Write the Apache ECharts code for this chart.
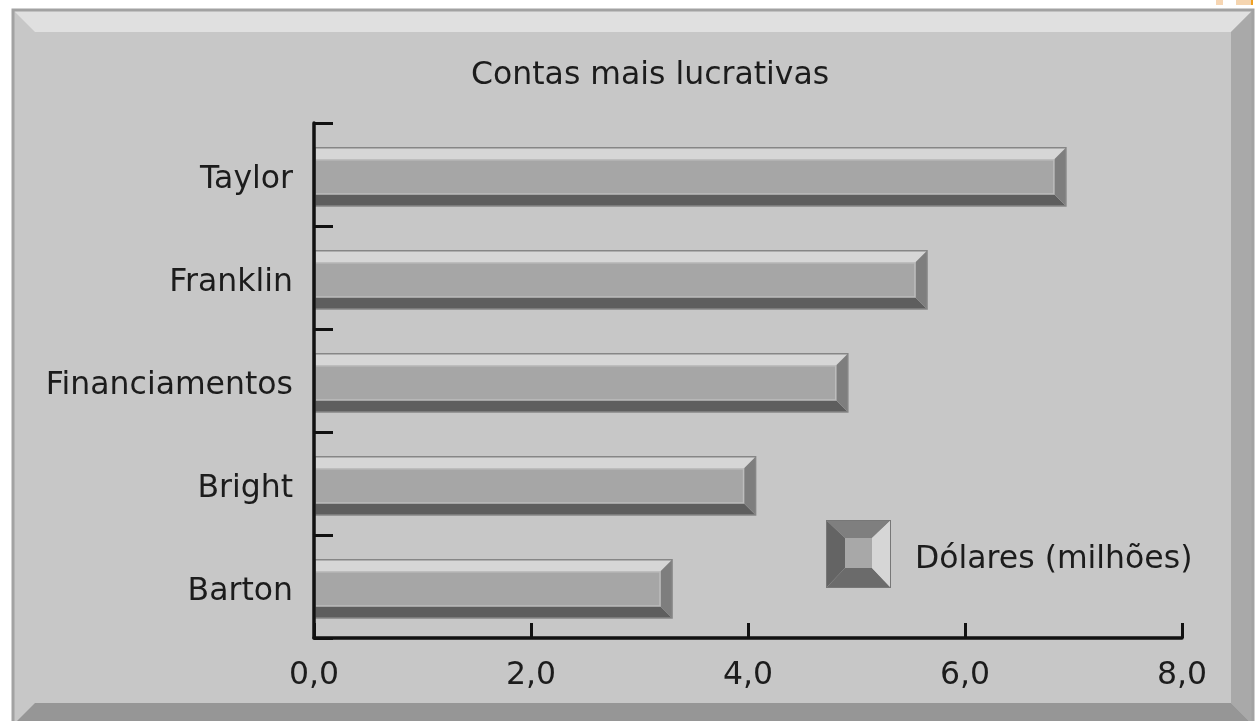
<!DOCTYPE html>
<html>
<head>
<meta charset="utf-8">
<title>Contas mais lucrativas</title>
<script src="https://cdn.jsdelivr.net/npm/echarts@6/dist/echarts.min.js"></script>
<style>
  html, body { margin: 0; padding: 0; background: #fff; }
  #main { width: 1256px; height: 721px; }
</style>
</head>
<body>
<div id="main"></div>
<script>
// dados do gráfico
const categories = ['Taylor', 'Franklin', 'Financiamentos', 'Bright', 'Barton'];
const values = [6.93, 5.65, 4.92, 4.07, 3.30];
const seriesName = 'Dólares (milhões)';
const xMin = 0;
const xMax = 8;
const xStep = 2;

const FONT = 'DejaVu Sans';
const TEXT_COLOR = '#1c1c1c';
const FONT_SIZE = 31.5;

// ícone da legenda em relevo (parte de baixo transparente p/ descer o texto)
const iconSvg =
  '<svg xmlns="http://www.w3.org/2000/svg" width="65" height="80" viewBox="0 0 65 80">' +
  '<polygon points="0,0 65,0 46,18 19,18" fill="#7f7f7f"/>' +
  '<polygon points="0,0 19,18 19,48 0,68" fill="#646464"/>' +
  '<polygon points="0,68 65,68 46,48 19,48" fill="#6b6b6b"/>' +
  '<polygon points="65,0 65,68 46,48 46,18" fill="#d6d6d6"/>' +
  '<rect x="19" y="18" width="27" height="30" fill="#a8a8a8"/>' +
  '<rect x="0.5" y="0.5" width="64" height="67" fill="none" stroke="#777" stroke-width="1"/>' +
  '</svg>';
const iconUri = 'image://data:image/svg+xml;charset=utf-8,' + encodeURIComponent(iconSvg);

// barra com efeito de bisel
const renderBar = function (params, api) {
  const idx = api.value(0);
  const val = api.value(1);
  const p0 = api.coord([0, idx]);
  const p1 = api.coord([val, idx]);
  const band = api.size([0, 1])[1];
  const x0 = p0[0] + 1;
  const x1 = p1[0];
  const yt = p0[1] - band * 0.26;
  const yb = p0[1] + band * 0.305;
  const b = 12;
  return {
    type: 'group',
    children: [
      { type: 'polygon', shape: { points: [[x0, yt], [x1, yt], [x1 - b, yt + b], [x0, yt + b]] }, style: { fill: '#d6d6d6' } },
      { type: 'polygon', shape: { points: [[x0, yb], [x1, yb], [x1 - b, yb - b], [x0, yb - b]] }, style: { fill: '#5e5e5e' } },
      { type: 'polygon', shape: { points: [[x1, yt], [x1, yb], [x1 - b, yb - b], [x1 - b, yt + b]] }, style: { fill: '#7e7e7e' } },
      { type: 'rect', shape: { x: x0, y: yt + b, width: x1 - b - x0, height: yb - yt - 2 * b }, style: { fill: '#a6a6a6', stroke: '#bdbdbd', lineWidth: 1.5 } },
      { type: 'rect', shape: { x: x0, y: yt, width: x1 - x0, height: yb - yt }, style: { fill: 'none', stroke: '#868686', lineWidth: 1.5 } },
    ],
  };
};

// moldura em relevo
const L = 13, T = 10, R = 1253, B = 725, BV = 22;
const frame = [
  { type: 'rect', shape: { x: L, y: T, width: R - L, height: B - T }, style: { fill: '#c7c7c7' }, z: -10 },
  { type: 'polygon', shape: { points: [[L, T], [R, T], [R - BV, T + BV], [L + BV, T + BV]] }, style: { fill: '#e0e0e0' }, z: -9 },
  { type: 'polygon', shape: { points: [[R, T], [R, B], [R - BV, B - BV], [R - BV, T + BV]] }, style: { fill: '#a9a9a9' }, z: -9 },
  { type: 'polygon', shape: { points: [[L, B], [R, B], [R - BV, B - BV], [L + BV, B - BV]] }, style: { fill: '#969696' }, z: -9 },
  { type: 'rect', shape: { x: L, y: T, width: R - L, height: B - T }, style: { fill: 'none', stroke: '#a2a2a2', lineWidth: 3 }, z: -8 },
  { type: 'rect', shape: { x: 1216, y: 0, width: 7, height: 5 }, style: { fill: '#f7d6b3' }, z: -8 },
  { type: 'rect', shape: { x: 1236, y: 0, width: 15, height: 5 }, style: { fill: '#f5d5b0' }, z: -8 },
  { type: 'rect', shape: { x: 1251, y: 0, width: 2, height: 5 }, style: { fill: '#f0a020' }, z: -8 },
];

const fmt = (v) => v.toFixed(1).replace('.', ',');

const options = {
  backgroundColor: '#fff',
  animation: false,
  graphic: frame,
  title: {
    text: 'Contas mais lucrativas',
    left: 471,
    top: 60,
    padding: 0,
    textStyle: { fontFamily: FONT, fontSize: FONT_SIZE, fontWeight: 'normal', color: TEXT_COLOR },
  },
  legend: {
    data: [seriesName],
    left: 826,
    top: 520,
    padding: 0,
    itemWidth: 65,
    itemHeight: 80,
    icon: iconUri,
    selectedMode: false,
    textStyle: { fontFamily: FONT, fontSize: FONT_SIZE, color: TEXT_COLOR, padding: [0, 0, 0, 19] },
  },
  grid: { left: 314, right: 74, top: 123, bottom: 83, containLabel: false },
  xAxis: {
    type: 'value',
    min: xMin,
    max: xMax,
    interval: xStep,
    z: 5,
    axisLine: { show: true, lineStyle: { color: '#111', width: 3.5 } },
    axisTick: { show: true, inside: true, length: 15, lineStyle: { color: '#111', width: 3 } },
    splitLine: { show: false },
    axisLabel: { margin: 22, fontFamily: FONT, fontSize: FONT_SIZE, color: TEXT_COLOR, formatter: fmt },
  },
  yAxis: {
    type: 'category',
    data: categories,
    inverse: true,
    z: 5,
    axisLine: { show: true, lineStyle: { color: '#111', width: 3.5 } },
    axisTick: { show: true, inside: true, length: 19, lineStyle: { color: '#111', width: 3 } },
    axisLabel: {
      margin: 21, fontFamily: FONT, fontSize: FONT_SIZE, color: TEXT_COLOR,
      verticalAlign: 'top', lineHeight: 11,
    },
  },
  series: [
    {
      name: seriesName,
      type: 'custom',
      renderItem: renderBar,
      encode: { x: 1, y: 0 },
      data: values.map((v, i) => [i, v]),
    },
  ],
};

const myChart = echarts.init(document.getElementById('main'));
myChart.setOption(options);
</script>
</body>
</html>
